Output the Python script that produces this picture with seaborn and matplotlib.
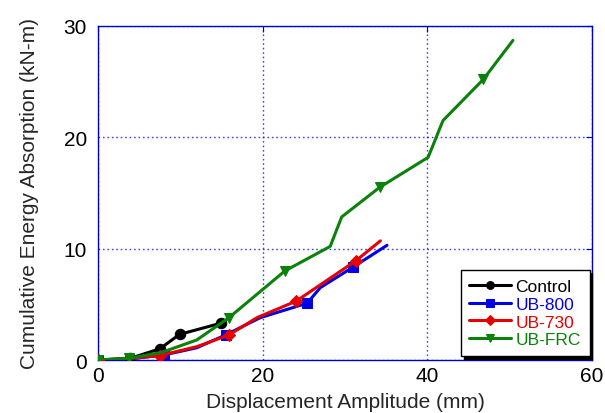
import matplotlib
matplotlib.use("Agg")
import matplotlib.pyplot as plt
import seaborn as sns
import numpy as np

# ---- data ----
ctrl_x = [0, 3.9, 7.5, 9.9, 14.9]
ctrl_y = [0, 0.15, 1.0, 2.3, 3.3]
ctrl_mk = [0, 1, 2, 3, 4]

ub800_x = [0, 4.0, 8.0, 12.0, 15.5, 19.7, 25.4, 27.0, 31.0, 35.1]
ub800_y = [0, 0.1, 0.45, 1.1, 2.25, 3.8, 5.1, 6.5, 8.35, 10.3]
ub800_mk = [0, 2, 4, 6, 8]

ub730_x = [0, 4.0, 7.5, 12.0, 15.9, 19.3, 24.1, 31.3, 34.3]
ub730_y = [0, 0.15, 0.4, 1.2, 2.25, 3.8, 5.3, 8.9, 10.7]
ub730_mk = [0, 2, 4, 6, 7]

frc_x = [0, 3.8, 7.8, 12.0, 15.9, 22.7, 28.2, 29.6, 34.2, 40.1, 41.9, 46.8, 50.4]
frc_y = [0, 0.15, 0.7, 1.8, 3.8, 8.0, 10.2, 12.85, 15.5, 18.2, 21.5, 25.2, 28.7]
frc_mk = [0, 1, 4, 5, 8, 11]

labels = ["Control", "UB-800", "UB-730", "UB-FRC"]
colors = ["#000000", "#0000e6", "#e60000", "#0a820a"]
markers = ["o", "s", "D", "v"]
msizes = [7.5, 7.5, 6.5, 7.5]

xticks = [0, 20, 40, 60]
yticks = [0, 10, 20, 30]

sns.set_style("white")
plt.rcParams["font.family"] = ["Liberation Sans", "DejaVu Sans"]

fig = plt.figure(figsize=(6.05, 4.14), dpi=100)
ax = fig.add_axes([0.162, 0.128, 0.9785 - 0.162, 0.935 - 0.128])

series = [(ctrl_x, ctrl_y, ctrl_mk), (ub800_x, ub800_y, ub800_mk),
          (ub730_x, ub730_y, ub730_mk), (frc_x, frc_y, frc_mk)]
for (xs, ys, mk), lab, c, m, ms in zip(series, labels, colors, markers, msizes):
    sns.lineplot(x=xs, y=ys, sort=False, estimator=None, ax=ax, color=c,
                 linewidth=2.2, marker=m, markersize=ms, markevery=mk,
                 markeredgecolor=c, markerfacecolor=c, label=lab, zorder=3)

ax.set_xlim(0, 60)
ax.set_ylim(0, 30)
ax.set_xticks(xticks)
ax.set_yticks(yticks)
ax.grid(True, color="#0000ff", linestyle=(0, (1.2, 2)), linewidth=1.0, alpha=0.75)
for s in ax.spines.values():
    s.set_color("#0000cc")
    s.set_linewidth(1.0)
ax.tick_params(axis="both", direction="in", length=4, color="#0000cc",
               labelsize=15, top=True, right=True, labelcolor="black")
ax.tick_params(axis="x", pad=4)
ax.tick_params(axis="y", pad=8)
ax.set_xlabel("Displacement Amplitude (mm)", fontsize=15, labelpad=5)
ax.set_ylabel("Cumulative Energy Absorption (kN-m)", fontsize=15, labelpad=18)

leg = ax.legend(loc="lower right", bbox_to_anchor=(0.995, 0.012), borderaxespad=0,
                fontsize=12.5, frameon=True, fancybox=False,
                shadow={"color": "black", "alpha": 1},
                edgecolor="black", framealpha=1, handlelength=2.4, markerscale=0.75,
                borderpad=0.5, labelspacing=0.15, handletextpad=0.25)
leg.get_frame().set_linewidth(1.0)
for t, c in zip(leg.get_texts(), colors):
    t.set_color(c)

fig.savefig("out.png", dpi=100)
